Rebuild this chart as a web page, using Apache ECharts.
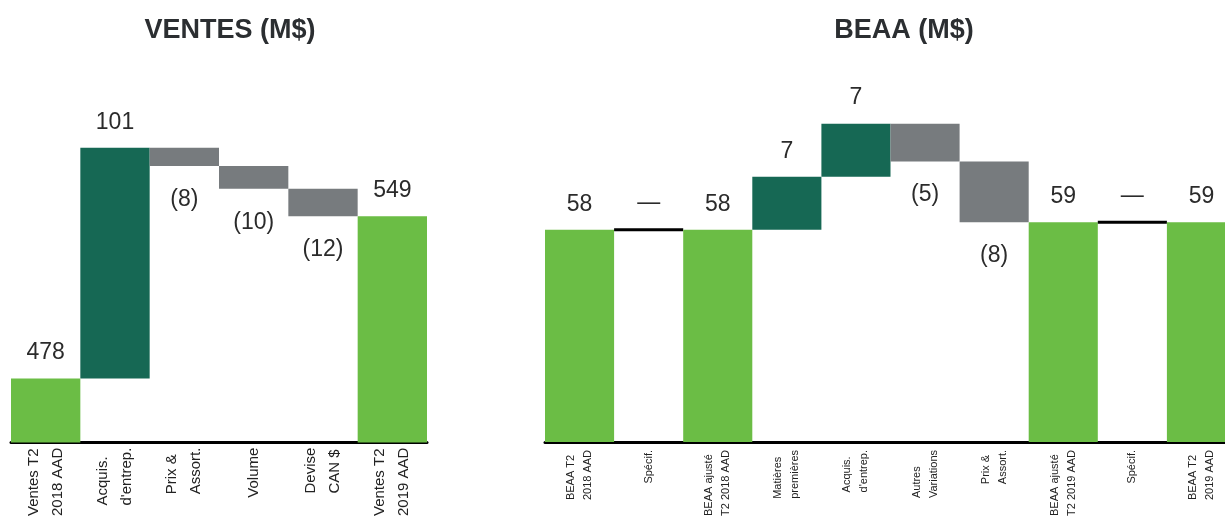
<!DOCTYPE html>
<html>
<head>
<meta charset="utf-8">
<script src="https://cdn.jsdelivr.net/npm/echarts@6/dist/echarts.min.js"></script>
<style>
  html, body { margin: 0; padding: 0; background: #fff; overflow: hidden; }
  #main { width: 1240px; height: 519px; }
</style>
</head>
<body>
<div id="main"></div>
<script>
// ventes (M$)
var ventesCats = ['Ventes T2\n2018 AAD', 'Acquis.\nd\'entrep.', 'Prix &\nAssort.', 'Volume', 'Devise\nCAN $', 'Ventes T2\n2019 AAD'];
var ventesVals = [478, 101, -8, -10, -12, 549];
var ventesTotal = [true, false, false, false, false, true];

// BEAA (M$)
var beaaCats = ['BEAA T2\n2018 AAD', 'Spécif.', 'BEAA ajusté\nT2 2018 AAD', 'Matières\npremières', 'Acquis.\nd\'entrep.', 'Autres\nVariations', 'Prix &\nAssort.', 'BEAA ajusté\nT2 2019 AAD', 'Spécif.', 'BEAA T2\n2019 AAD'];
var beaaVals = [58, 0, 58, 7, 7, -5, -8, 59, 0, 59];
var beaaTotal = [true, false, true, false, false, false, false, true, false, true];

var GREEN = '#6bbd45', DARK = '#166854', GREY = '#777b7e';
var NUM_FONT = '"Liberation Sans Narrow", "Liberation Sans", Arial, sans-serif';

// build invisible base + visible step for a waterfall
function waterfall(vals, totals) {
  var base = [], bars = [], run = 0;
  vals.forEach(function (v, i) {
    var lbl = { show: true, position: 'top', distance: 14 };
    var item = { value: Math.abs(v), itemStyle: {}, label: lbl };
    if (totals[i]) {
      run = v;
      base.push(0);
      item.itemStyle.color = GREEN;
      lbl.formatter = String(v);
    } else if (v > 0) {
      base.push(run);
      run += v;
      item.itemStyle.color = DARK;
      lbl.formatter = String(v);
    } else if (v < 0) {
      run += v;
      base.push(run);
      item.itemStyle.color = GREY;
      lbl.position = 'bottom';
      lbl.distance = 22;
      lbl.formatter = '(' + (-v) + ')';
    } else {
      base.push(run);
      item.itemStyle.color = 'transparent';
      item.itemStyle.borderColor = '#000';
      item.itemStyle.borderWidth = 3;
      lbl.formatter = '\u2014';
    }
    bars.push(item);
  });
  return { base: base, bars: bars };
}

var wv = waterfall(ventesVals, ventesTotal);
var wb = waterfall(beaaVals, beaaTotal);

function catLabel(size, lh, margin) {
  return {
    rotate: 90, margin: margin, interval: 0, color: '#222',
    formatter: function (v) {
      return v.split('\n').map(function (s) { return '{a|' + s + '}'; }).join('\n');
    },
    rich: { a: { align: 'left', fontSize: size, lineHeight: lh, color: '#222', fontFamily: '"Liberation Sans", Arial, sans-serif' } }
  };
}

var option = {
  animation: false,
  title: [
    { text: 'VENTES (M$)', left: 225, top: 12, textAlign: 'center',
      textStyle: { fontFamily: NUM_FONT, fontWeight: 'bold', fontSize: 27, color: '#2b2e31' } },
    { text: 'BEAA (M$)', left: 899, top: 12, textAlign: 'center',
      textStyle: { fontFamily: NUM_FONT, fontWeight: 'bold', fontSize: 27, color: '#2b2e31' } }
  ],
  grid: [
    { left: 11, top: 54, width: 416, height: 389 },
    { left: 545, top: 63, width: 691, height: 380 }
  ],
  xAxis: [
    { type: 'category', gridIndex: 0, data: ventesCats,
      axisLine: { lineStyle: { color: '#000', width: 3 } }, axisTick: { show: false },
      axisLabel: catLabel(15, 24, 5) },
    { type: 'category', gridIndex: 1, data: beaaCats,
      axisLine: { lineStyle: { color: '#000', width: 3 } }, axisTick: { show: false },
      axisLabel: catLabel(11, 17, 8) }
  ],
  yAxis: [
    { type: 'value', gridIndex: 0, min: 450, max: 620, show: false, splitLine: { show: false } },
    { type: 'value', gridIndex: 1, min: 30, max: 80, show: false, splitLine: { show: false } }
  ],
  series: [
    { type: 'bar', xAxisIndex: 0, yAxisIndex: 0, stack: 'v', data: wv.base,
      itemStyle: { color: 'transparent' }, barCategoryGap: 0, silent: true },
    { type: 'bar', xAxisIndex: 0, yAxisIndex: 0, stack: 'v', data: wv.bars, barCategoryGap: 0,
      label: { fontFamily: NUM_FONT, fontSize: 23, color: '#2b2b2b' } },
    { type: 'bar', xAxisIndex: 1, yAxisIndex: 1, stack: 'b', data: wb.base,
      itemStyle: { color: 'transparent' }, barCategoryGap: 0, silent: true },
    { type: 'bar', xAxisIndex: 1, yAxisIndex: 1, stack: 'b', data: wb.bars, barCategoryGap: 0,
      label: { fontFamily: NUM_FONT, fontSize: 23, color: '#2b2b2b' } }
  ]
};

echarts.init(document.getElementById('main')).setOption(option);
</script>
</body>
</html>
